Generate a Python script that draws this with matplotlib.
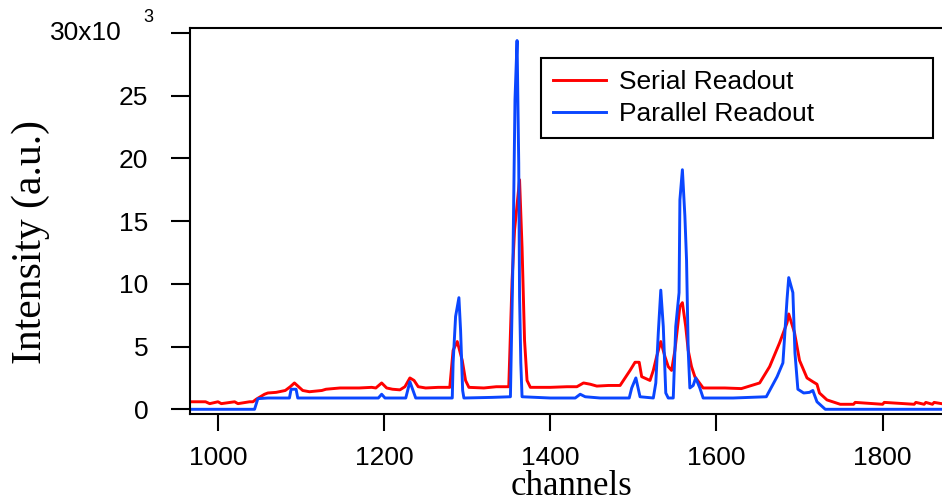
"""Serial vs parallel readout spectra (channels vs intensity)."""

import matplotlib
matplotlib.use('Agg')
import matplotlib.pyplot as plt

# serial readout, intensity in units of 1e3
serial_ch = [966, 985, 990, 1000, 1004, 1020, 1024, 1038, 1042, 1046, 1051, 1056,
             1060, 1070, 1081, 1087, 1092, 1097, 1102, 1110, 1125, 1130, 1147,
             1170, 1185, 1190, 1197, 1203, 1210, 1219, 1225, 1231, 1236, 1241,
             1250, 1265, 1279, 1283, 1288, 1294, 1298, 1302, 1320, 1335, 1350,
             1354, 1357, 1363, 1366, 1369, 1372, 1376, 1400, 1420, 1432, 1440,
             1448, 1456, 1470, 1484, 1496, 1502, 1507, 1510, 1520, 1524, 1528,
             1533, 1538, 1542, 1546, 1550, 1556, 1559, 1563, 1566, 1570, 1574,
             1584, 1610, 1630, 1652, 1664, 1676, 1685, 1687, 1694, 1700, 1709,
             1716, 1721, 1724, 1733, 1749, 1765, 1767, 1800, 1802, 1838, 1840,
             1850, 1852, 1860, 1862, 1871]
serial_val = [0.6, 0.6, 0.45, 0.6, 0.45, 0.6, 0.45, 0.6, 0.6, 0.8, 1.0, 1.2,
              1.3, 1.35, 1.5, 1.8, 2.1, 1.8, 1.5, 1.4, 1.5, 1.6, 1.7,
              1.7, 1.75, 1.7, 2.1, 1.7, 1.6, 1.55, 1.8, 2.5, 2.3, 1.8,
              1.7, 1.75, 1.75, 4.7, 5.4, 3.9, 2.3, 1.75, 1.7, 1.8, 1.8,
              10.3, 14.3, 18.3, 12.9, 5.5, 2.3, 1.75, 1.75, 1.8, 1.8, 2.1,
              2.0, 1.85, 1.9, 1.9, 3.1, 3.75, 3.75, 2.6, 2.3, 3.1, 4.2,
              5.4, 4.2, 3.4, 3.1, 4.7, 8.2, 8.5, 6.6, 4.7, 3.4, 2.6,
              1.7, 1.7, 1.65, 2.1, 3.4, 5.3, 6.9, 7.6, 6.1, 3.9, 2.5,
              2.2, 2.0, 1.3, 0.75, 0.4, 0.4, 0.55, 0.4, 0.55, 0.4, 0.55,
              0.4, 0.55, 0.4, 0.55, 0.45]

# parallel readout
parallel_ch = [966, 1044, 1048, 1060, 1086, 1088, 1094, 1096, 1150, 1193, 1197,
               1201, 1226, 1231, 1238, 1250, 1282, 1283, 1286, 1290, 1292, 1294.5,
               1296, 1330, 1352, 1355, 1357.5, 1360, 1362, 1363, 1364.5, 1366,
               1400, 1430, 1436, 1442, 1460, 1495, 1498, 1503, 1508, 1524, 1527,
               1530, 1533, 1536, 1539, 1542, 1548, 1551, 1555, 1556, 1559, 1562,
               1564, 1566, 1568, 1572, 1575, 1580, 1584, 1620, 1660, 1673, 1680,
               1685, 1687, 1692, 1694.5, 1698, 1705, 1712, 1716, 1721, 1731, 1871]
parallel_val = [0.0, 0.0, 0.85, 0.9, 0.9, 1.6, 1.6, 0.9, 0.9, 0.9, 1.2,
                0.9, 0.9, 2.2, 0.9, 0.9, 0.9, 3.7, 7.4, 8.9, 6.3, 1.5,
                0.9, 0.95, 1.0, 11.7, 24.7, 29.4, 19.6, 9.0, 3.7, 1.0,
                0.9, 0.9, 1.2, 1.0, 0.9, 0.9, 1.7, 2.5, 1.0, 0.9, 2.1,
                6.1, 9.5, 6.6, 1.3, 0.9, 0.9, 6.6, 9.3, 16.7, 19.1, 15.4,
                11.9, 4.7, 1.7, 1.9, 2.5, 1.7, 0.9, 0.9, 1.0, 2.6, 3.7,
                8.8, 10.5, 9.3, 4.5, 1.6, 1.3, 1.35, 1.5, 0.6, 0.0, 0.0]

x_ticks = [1000, 1200, 1400, 1600, 1800]
y_ticks = [0, 5, 10, 15, 20, 25, 30]
y_tick_labels = ['0', '5', '10', '15', '20', '25', '']

W, H = 942, 503
fig = plt.figure(figsize=(W / 100, H / 100), dpi=100)
ax = fig.add_axes([190 / W, 1 - 414 / H, 1 - 190 / W, (414 - 28) / H])

ax.plot(serial_ch, serial_val, color='#ff0000', lw=2.1, label='Serial Readout')
ax.plot(parallel_ch, parallel_val, color='#0a46ff', lw=2.1, label='Parallel Readout')

ax.set_xlim(966.3, 1871.5)
ax.set_ylim(-0.375, 30.4)
ax.set_xticks(x_ticks)
ax.set_xticklabels([str(t) for t in x_ticks], family='Liberation Sans', fontsize=19)
ax.set_yticks(y_ticks)
ax.set_yticklabels(y_tick_labels, family='Liberation Sans', fontsize=19)
ax.tick_params(axis='y', direction='out', length=14, width=1.5, pad=16)
ax.tick_params(axis='x', direction='out', length=12, width=1.5, pad=11)
for side in ['left', 'bottom', 'top']:
    ax.spines[side].set_linewidth(1.5)
ax.spines['right'].set_visible(False)

# top tick label with its exponent, as in the original
fig.text(122 / W, 1 - 33 / H, '30x10', ha='right', va='center',
         family='Liberation Sans', fontsize=19)
fig.text(153 / W, 1 - 17 / H, '3', ha='right', va='center',
         family='Liberation Sans', fontsize=13)

fig.text(31 / W, 1 - 242 / H, 'Intensity (a.u.)', rotation=90, ha='center',
         va='center', family='Liberation Serif', fontsize=30)
fig.text(572 / W, 1 - 495 / H, 'channels', ha='center', va='baseline',
         family='Liberation Serif', fontsize=25)

leg = ax.legend(loc='upper left',
                bbox_to_anchor=(541 / W, 1 - 58 / H - 0.01, (933 - 541) / W, 0.01),
                bbox_transform=fig.transFigure, mode='expand',
                prop={'family': 'Liberation Sans', 'size': 19},
                handlelength=2.0, handletextpad=0.5, labelspacing=0.3,
                borderpad=0.45, borderaxespad=0, fancybox=False, framealpha=1)
leg.get_frame().set_edgecolor('black')
leg.get_frame().set_linewidth(1.5)

fig.savefig('out.png', dpi=100)
